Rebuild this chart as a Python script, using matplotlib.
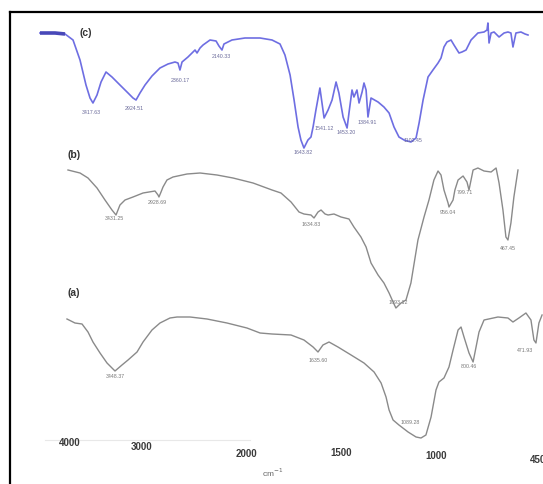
import numpy as np
import matplotlib
matplotlib.use('Agg')
import matplotlib.pyplot as plt
from matplotlib.lines import Line2D

plt.rcParams['font.family'] = ['Liberation Sans', 'DejaVu Sans']

# FTIR spectra, wavenumber (cm-1) vs. trace level (larger = lower on page)
wn_c = [4417, 4208, 4069, 3958, 3861, 3778, 3722, 3681, 3625, 3569,
        3500, 3417, 3306, 3194, 3125, 3083, 3028, 2971, 2904, 2827,
        2750, 2683, 2654, 2635, 2615, 2558, 2490, 2471, 2442, 2413,
        2346, 2288, 2260, 2231, 2212, 2135, 2010, 1926, 1863, 1821,
        1795, 1768, 1747, 1726, 1711, 1695, 1674, 1658, 1647, 1632,
        1611, 1589, 1568, 1547, 1526, 1511, 1489, 1468, 1458, 1442,
        1432, 1416, 1405, 1389, 1379, 1368, 1358, 1342, 1305, 1274,
        1247, 1221, 1195, 1168, 1132, 1105, 1089, 1068, 1042, 1016,
        989, 973, 957, 941, 919, 903, 876, 860, 838, 811,
        774, 741, 725, 720, 714, 703, 687, 660, 633, 612,
        596, 585, 569, 542, 520, 504]
lev_c = [33, 33, 34, 40, 60, 85, 98, 103, 95, 82,
         72, 77, 85, 93, 98, 100, 93, 85, 76, 68,
         64, 62, 63, 70, 62, 57, 50, 53, 48, 45,
         40, 41, 46, 50, 44, 40, 38, 38, 40, 44,
         55, 75, 100, 127, 140, 148, 140, 137, 127, 110,
         88, 118, 110, 100, 82, 93, 117, 128, 113, 90,
         97, 90, 103, 92, 83, 90, 117, 98, 102, 107,
         113, 127, 137, 140, 142, 138, 123, 100, 77, 70,
         63, 58, 47, 42, 40, 45, 53, 52, 50, 40,
         33, 32, 30, 23, 43, 33, 32, 37, 33, 32,
         33, 47, 33, 32, 34, 35]

wn_b = [4028, 3861, 3750, 3625, 3514, 3417, 3361, 3306, 3236, 3125,
        2990, 2875, 2846, 2837, 2817, 2798, 2760, 2702, 2567, 2442,
        2279, 2125, 1963, 1863, 1816, 1763, 1721, 1695, 1658, 1642,
        1621, 1605, 1584, 1568, 1537, 1500, 1458, 1432, 1395, 1368,
        1342, 1305, 1274, 1247, 1226, 1211, 1184, 1158, 1132, 1095,
        1063, 1037, 1011, 989, 973, 957, 935, 930, 908, 898,
        881, 854, 833, 822, 811, 800, 774, 741, 703, 676,
        660, 639, 623, 612, 596, 580, 558]
lev_b = [170, 173, 178, 188, 200, 210, 215, 205, 200, 197,
         193, 191, 195, 197, 192, 187, 180, 177, 174, 173,
         175, 178, 183, 190, 193, 202, 212, 214, 215, 218,
         212, 210, 214, 215, 214, 217, 219, 227, 237, 247,
         263, 275, 283, 293, 302, 308, 303, 300, 283, 240,
         217, 200, 180, 171, 175, 190, 203, 207, 200, 190,
         180, 176, 182, 190, 180, 170, 168, 171, 172, 168,
         183, 210, 237, 240, 223, 197, 170]

wn_a = [4042, 3931, 3833, 3750, 3681, 3583, 3486, 3375, 3278, 3194,
        3069, 2990, 2904, 2827, 2731, 2663, 2538, 2375, 2183, 1995,
        1926, 1863, 1763, 1695, 1647, 1621, 1595, 1563, 1516, 1447,
        1379, 1326, 1289, 1263, 1247, 1226, 1195, 1147, 1105, 1079,
        1053, 1026, 1000, 984, 957, 930, 908, 881, 865, 849,
        822, 800, 784, 768, 741, 666, 612, 585, 553, 515,
        488, 472, 461, 445, 428]
lev_a = [319, 323, 324, 332, 342, 353, 363, 371, 365, 360,
         352, 342, 330, 323, 318, 317, 317, 319, 323, 328,
         333, 334, 335, 340, 347, 352, 345, 342, 347, 355,
         363, 372, 383, 397, 410, 420, 425, 432, 437, 438,
         435, 417, 390, 382, 378, 367, 350, 330, 327, 337,
         353, 362, 347, 332, 320, 317, 318, 322, 318, 313,
         320, 340, 343, 323, 315]

# peak annotations: position, level, text
peaks_c_wn = [3708, 3111, 2635, 2240, 1700, 1589, 1474, 1363, 1121]
peaks_c_lev = [113, 109, 80, 57, 152, 128, 132, 122, 141]
peaks_c_txt = ['3417.63', '2924.51', '2360.17', '2140.33', '1643.82',
               '1541.12', '1453.20', '1384.91', '1102.45']
peaks_b_wn = [3389, 2856, 1658, 1200, 935, 844, 612]
peaks_b_lev = [218, 203, 224, 302, 212, 192, 248]
peaks_b_txt = ['3431.25', '2928.69', '1634.83', '1093.12', '956.04', '799.71', '467.45']
peaks_a_wn = [3375, 1621, 1137, 822, 520]
peaks_a_lev = [377, 360, 423, 366, 350]
peaks_a_txt = ['3448.37', '1635.60', '1089.28', '800.46', '471.93']

tick_wn = [4000, 3000, 2000, 1500, 1000, 450]
tick_lev = [443, 447, 454, 453, 456, 460]

# instrument style axis: scale expands below 2000 cm-1
scale_wn = [0, 450, 1000, 1500, 2000, 3000, 4000, 5000]
scale_pos = [-621, -538, -436, -341, -246, -142, -70, 2]


def fwd(w):
    return np.interp(w, scale_wn, scale_pos)


def inv(p):
    return np.interp(p, scale_pos, scale_wn)


fig = plt.figure(figsize=(5.43, 4.84), dpi=100)
ax = fig.add_axes([0, 0, 1, 1])
ax.set_xscale('function', functions=(fwd, inv))
ax.set_xlim(inv(0), inv(-543))
ax.set_ylim(484, 0)
ax.axis('off')

blue = '#6e6ee2'
grey = '#8a8a8a'

ax.plot(wn_c, lev_c, color=blue, lw=1.2)
ax.plot(wn_c[:3], lev_c[:3], color='#4848b8', lw=2.6, solid_capstyle='butt')
ax.plot(wn_b, lev_b, color=grey, lw=1.0)
ax.plot(wn_a, lev_a, color=grey, lw=1.0)

for w, l, t in zip(peaks_c_wn, peaks_c_lev, peaks_c_txt):
    ax.text(w, l, t, fontsize=3.8, color='#6a6a9a', ha='center', va='center')
for w, l, t in zip(peaks_b_wn, peaks_b_lev, peaks_b_txt):
    ax.text(w, l, t, fontsize=3.8, color='#777777', ha='center', va='center')
for w, l, t in zip(peaks_a_wn, peaks_a_lev, peaks_a_txt):
    ax.text(w, l, t, fontsize=3.8, color='#777777', ha='center', va='center')

ax.text(3778, 33, '(c)', fontsize=7.5, fontweight='bold', color='#333333', ha='center', va='center')
ax.text(3944, 155, '(b)', fontsize=7.5, fontweight='bold', color='#333333', ha='center', va='center')
ax.text(3944, 293, '(a)', fontsize=7.5, fontweight='bold', color='#333333', ha='center', va='center')

# faint baseline and wavenumber labels
ax.plot([4347, 1979], [440, 440], color='#e8e8e8', lw=0.8)
for w, l in zip(tick_wn, tick_lev):
    ax.text(w, l, str(w), fontsize=7, fontweight='bold', color='#3a3a3a', ha='center', va='center')
ax.text(1858, 473, 'cm$^{-1}$', fontsize=6, color='#666666', ha='center', va='center')

# frame of the original figure (left and top edges only)
fig.add_artist(Line2D([10 / 543, 10 / 543], [0, 1 - 12 / 484], color='black', lw=1.6,
                      transform=fig.transFigure))
fig.add_artist(Line2D([10 / 543, 1], [1 - 12 / 484, 1 - 12 / 484], color='black', lw=1.6,
                      transform=fig.transFigure))

fig.savefig('out.png', dpi=100)
